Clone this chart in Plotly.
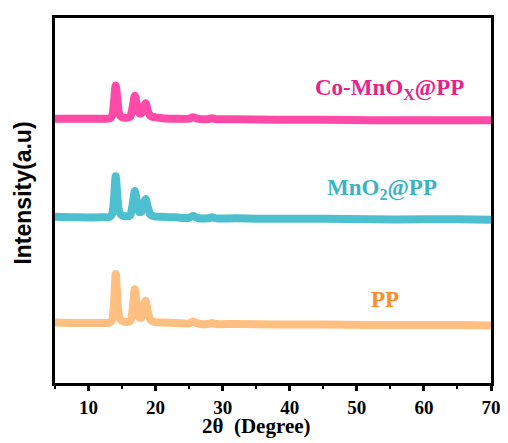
import plotly.graph_objects as go

# 2-theta sample positions (degrees)
two_theta = [5, 8, 12, 13.2, 13.55, 13.8, 14.05, 14.3, 14.6, 15.0, 15.6, 16.2, 16.55, 16.9,
             17.2, 17.55, 17.9, 18.2, 18.5, 18.85, 19.25, 19.8, 21, 23, 25.0, 25.6, 26.2,
             27.8, 28.4, 29.0, 32, 38, 45, 52, 60, 65, 70]

# intensities (arbitrary units, offset-stacked)
pp = [61, 60.5, 60.5, 61, 64, 80, 110, 86, 66, 62.5, 61.5, 62.5, 73, 94.5,
      79, 66, 66, 75, 83, 71, 63.5, 61.5, 61, 60.5, 60, 62, 60,
      59.5, 60.5, 59.5, 59.5, 59, 59, 58.5, 58.5, 58.5, 58]
mno2 = [167.5, 167, 167, 167.5, 171, 186, 208.5, 188, 172, 169, 168, 169, 179, 193.5,
        183, 172.5, 172.5, 181, 185.5, 177, 169.5, 168, 167.5, 167, 166.5, 168.5, 166.5,
        166, 167, 166, 166, 165.5, 165.5, 165, 165, 165, 164.5]
co_mnox = [266.5, 266.5, 266.5, 267, 270, 284, 300, 286, 271, 268, 267.5, 268.5, 277, 289.5,
           281, 272, 272, 278, 282, 274, 269, 268, 267, 266.5, 266.5, 268, 266.5,
           266, 267, 266, 266, 265.5, 265.5, 265, 265, 265, 265]

series_names = ["PP", "MnO2@PP", "Co-MnOx@PP"]
series_values = [pp, mno2, co_mnox]
line_colors = ["#FFBF80", "#4DBFCF", "#FF4AA8"]

label_texts = ["PP", "MnO<sub>2</sub>@PP", "Co-MnO<sub>X</sub>@PP"]
label_x = [54.2, 53.7, 54.8]
label_y = [84, 196, 296]
label_colors = ["#FF8C26", "#3AB3C3", "#E8218A"]

x_ticks = [10, 20, 30, 40, 50, 60, 70]

fig = go.Figure()
for name, vals, col in zip(series_names, series_values, line_colors):
    fig.add_trace(go.Scatter(x=two_theta, y=vals, mode="lines", name=name,
                             line=dict(color=col, width=8, shape="spline", smoothing=0.8),
                             showlegend=False, hoverinfo="skip"))

for t, x, y, c in zip(label_texts, label_x, label_y, label_colors):
    fig.add_annotation(x=x, y=y, text=t, showarrow=False, xanchor="center", yanchor="middle",
                       font=dict(family="Liberation Serif", size=23, color=c, weight="bold"))

fig.add_annotation(xref="paper", yref="paper", x=0.463, y=0, yshift=-43,
                   text="2θ\u00a0\u00a0(Degree)",
                   showarrow=False, xanchor="center", yanchor="middle",
                   font=dict(family="Liberation Serif", size=21, color="black", weight="bold"))
fig.add_annotation(xref="paper", yref="paper", x=0, xshift=-32, y=0.519, text="Intensity(a.u)",
                   textangle=-90, showarrow=False, xanchor="center", yanchor="middle",
                   font=dict(family="Liberation Sans", size=23, color="black", weight="bold"))

fig.update_xaxes(range=[5, 70], tickvals=x_ticks, ticks="outside", ticklen=5, tickwidth=2.5,
                 tickcolor="black", showline=True, linewidth=3, linecolor="black", mirror=True,
                 showgrid=False, zeroline=False,
                 tickfont=dict(family="Liberation Serif", size=19, color="black", weight="bold"),
                 minor=dict(dtick=5, tick0=5, ticks="outside", ticklen=3, tickwidth=2, tickcolor="black"))
fig.update_yaxes(range=[0, 368], showticklabels=False, ticks="", showline=True, linewidth=3,
                 linecolor="black", mirror=True, showgrid=False, zeroline=False)

# page body adds an 8px offset; compensate so the plot frame lands where the reference has it
fig.update_layout(width=500, height=435, margin=dict(l=47, r=16, t=7, b=60),
                  plot_bgcolor="white", paper_bgcolor="white")

fig.write_html("out.html")
